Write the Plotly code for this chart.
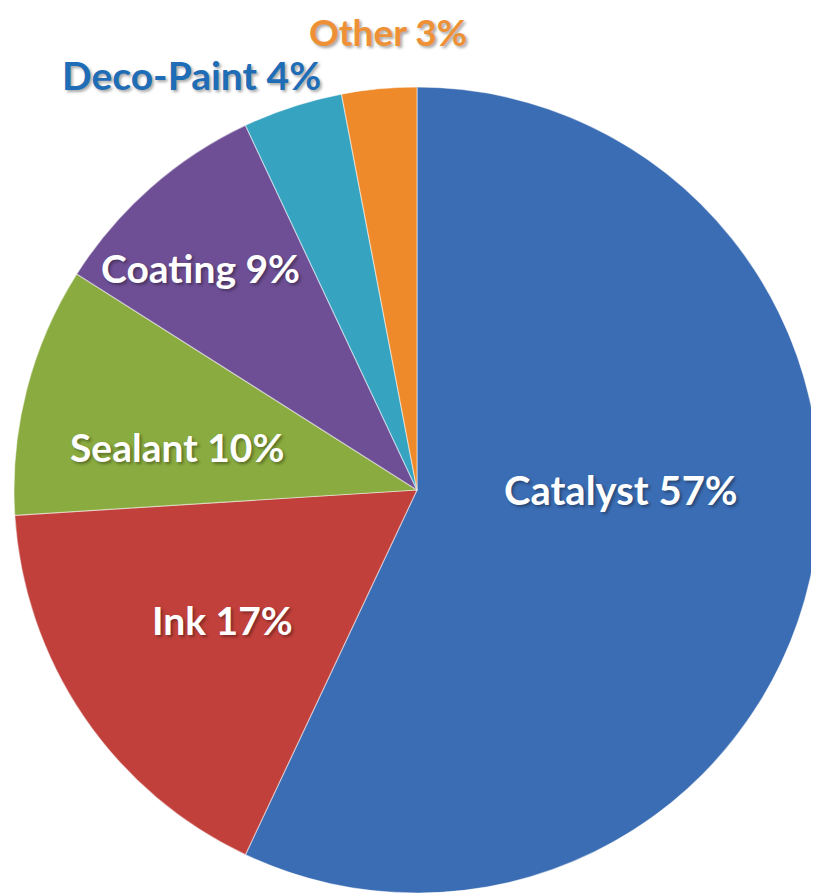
import plotly.graph_objects as go

categories = ["Catalyst", "Ink", "Sealant", "Coating", "Deco-Paint", "Other"]
shares = [57, 17, 10, 9, 4, 3]
slice_colors = ["#3b6db4", "#c2403b", "#8aab3f", "#6e4f95", "#36a3c1", "#ef8a2b"]

W, H = 819, 896
OFF = 8  # browser body margin

def fx(px):
    return (px - OFF) / W

def fy(py):
    return 1 - (py - OFF) / H

fig = go.Figure()
fig.add_trace(go.Pie(
    labels=categories,
    values=shares,
    sort=False,
    direction="clockwise",
    rotation=0,
    textinfo="none",
    hoverinfo="label+percent",
    marker=dict(colors=slice_colors, line=dict(color="rgba(255,255,255,0.45)", width=1.2)),
    domain=dict(x=[fx(14), fx(820)], y=[fy(893), fy(87)]),
    showlegend=False,
))

label_pos = {
    "Catalyst": (621, 490),
    "Ink": (222, 620),
    "Sealant": (177, 447),
    "Coating": (200, 268),
    "Deco-Paint": (191, 75),
    "Other": (388, 31),
}
label_size = {
    "Catalyst": 40, "Ink": 39, "Sealant": 39, "Coating": 39,
    "Deco-Paint": 39, "Other": 37,
}
label_color = {
    "Catalyst": "white", "Ink": "white", "Sealant": "white", "Coating": "white",
    "Deco-Paint": "#1f6db7", "Other": "#ee9036",
}
for cat, val in zip(categories, shares):
    px, py = label_pos[cat]
    fig.add_annotation(
        x=fx(px), y=fy(py), xref="paper", yref="paper",
        text=f"<b>{cat} {val}%</b>", showarrow=False,
        xanchor="center", yanchor="middle",
        font=dict(family="Lato", size=label_size[cat], color=label_color[cat],
                  shadow="2px 2px 3px rgba(0,0,0,0.35)"),
    )

fig.update_layout(
    width=W, height=H,
    margin=dict(l=0, r=0, t=0, b=0),
    paper_bgcolor="white", plot_bgcolor="white",
)

fig.write_html("out.html")
